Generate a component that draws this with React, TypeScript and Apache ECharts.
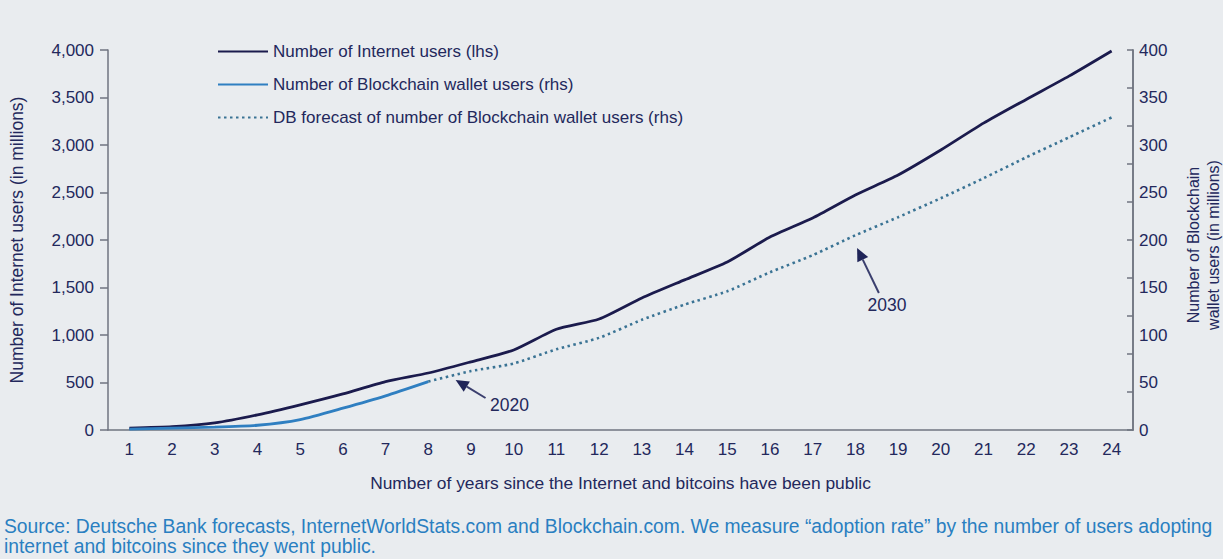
import React, { useEffect, useRef } from "react";
import * as echarts from "echarts";

const years = ["1","2","3","4","5","6","7","8","9","10","11","12","13","14","15","16","17","18","19","20","21","22","23","24"];
const internetUsers = [20, 35, 75, 160, 265, 380, 510, 600, 718, 842, 1060, 1168, 1390, 1580, 1768, 2032, 2232, 2474, 2684, 2947, 3230, 3480, 3725, 3990];
const blockchainUsers: (number | null)[] = [1, 2, 3, 5, 11, 23, 36, 51, null, null, null, null, null, null, null, null, null, null, null, null, null, null, null, null];
const forecastUsers: (number | null)[] = [null, null, null, null, null, null, null, 51, 62, 70, 85, 97, 116, 132, 146, 166, 184, 205, 224, 244, 265, 287, 308, 329];
const leftTicks = [0, 500, 1000, 1500, 2000, 2500, 3000, 3500, 4000];
const rightTicks = [0, 50, 100, 150, 200, 250, 300, 350, 400];

// annotations: [label, headIdx, headVal, tailIdx, tailVal, textIdx, textVal] (index space, left-axis value)
const annotations: [string, number, number, number, number, number, number][] = [
  ["2020", 7.64, 526, 8.34, 337, 8.9, 263],
  ["2030", 17.04, 1916, 17.55, 1442, 17.74, 1316],
];

const NAVY = "#23285c";
const AXIS = "#6f7480";
const FONT = "'Liberation Sans', Arial, sans-serif";
const FS = 17;

export default function App() {
  const ref = useRef<HTMLDivElement>(null);
  useEffect(() => {
    document.body.style.margin = "0";
    const chart = echarts.init(ref.current!, undefined, { renderer: "svg" });
    const option: any = {
      animation: false,
      backgroundColor: "#e9ecef",
      textStyle: { fontFamily: FONT },
      grid: { left: 103, right: 90, top: 50, bottom: 129 },
      legend: {
        orient: "vertical",
        left: 212,
        top: 38,
        itemWidth: 50,
        itemHeight: 14,
        itemGap: 16,
        itemStyle: { opacity: 0 },
        textStyle: { color: NAVY, fontSize: FS, fontFamily: FONT },
        data: [
          "Number of Internet users (lhs)",
          "Number of Blockchain wallet users (rhs)",
          "DB forecast of number of Blockchain wallet users (rhs)",
        ],
      },
      xAxis: {
        type: "category",
        data: years,
        boundaryGap: true,
        name: "Number of years since the Internet and bitcoins have been public",
        nameLocation: "middle",
        nameGap: 44,
        nameTextStyle: { color: NAVY, fontSize: 17.4, fontFamily: FONT },
        axisLine: { lineStyle: { color: AXIS, width: 1.5 } },
        axisTick: { lineStyle: { color: AXIS, width: 1.5 }, length: 7 },
        axisLabel: { color: NAVY, fontSize: FS, margin: 11, fontFamily: FONT },
      },
      yAxis: [
        {
          type: "value",
          min: 0,
          max: 4000,
          interval: 500,
          position: "left",
          name: "Number of Internet users (in millions)",
          nameLocation: "middle",
          nameGap: 82,
          nameRotate: 90,
          nameTextStyle: { color: NAVY, fontSize: 17.5, fontFamily: FONT },
          axisLine: { show: true, lineStyle: { color: AXIS, width: 1.5 } },
          axisTick: { show: true, length: 8, lineStyle: { color: AXIS, width: 1.5 } },
          splitLine: { show: false },
          axisLabel: {
            color: NAVY,
            fontSize: FS,
            margin: 14,
            fontFamily: FONT,
            formatter: (v: number) => (leftTicks.includes(v) ? v.toLocaleString("en-US") : ""),
          },
        },
        {
          type: "value",
          min: 0,
          max: 400,
          interval: 50,
          position: "right",
          axisLine: { show: true, lineStyle: { color: AXIS, width: 1.5 } },
          axisTick: { show: false },
          splitLine: { show: false },
          axisLabel: {
            color: NAVY,
            fontSize: FS,
            margin: 6,
            fontFamily: FONT,
            formatter: (v: number) => (rightTicks.includes(v) ? String(v) : ""),
          },
        },
        {
          type: "value",
          min: 0,
          max: 400,
          interval: 40,
          position: "right",
          offset: 0,
          axisLine: { show: true, lineStyle: { color: AXIS, width: 1.5 } },
          axisTick: { show: true, inside: true, length: 6, lineStyle: { color: AXIS, width: 1.5 } },
          splitLine: { show: false },
          axisLabel: { show: false },
        },
      ],
      series: [
        {
          name: "Number of Internet users (lhs)",
          type: "line",
          yAxisIndex: 0,
          data: internetUsers,
          symbol: "none",
          smooth: 0.2,
          lineStyle: { color: "#1b1b4d", width: 2.8 },
          itemStyle: { color: "#1b1b4d" },
        },
        {
          name: "Number of Blockchain wallet users (rhs)",
          type: "line",
          yAxisIndex: 1,
          data: blockchainUsers,
          symbol: "none",
          smooth: 0.2,
          lineStyle: { color: "#2f7fc1", width: 2.8 },
          itemStyle: { color: "#2f7fc1" },
        },
        {
          name: "DB forecast of number of Blockchain wallet users (rhs)",
          type: "line",
          yAxisIndex: 1,
          data: forecastUsers,
          symbol: "none",
          smooth: 0.2,
          lineStyle: { color: "#3a7394", width: 2.6, type: [2.5, 3.5] },
          itemStyle: { color: "#3a7394" },
        },
      ],
    };
    chart.setOption(option);

    const p0 = chart.convertToPixel({ xAxisIndex: 0, yAxisIndex: 0 }, [0, 0]) as number[];
    const p1 = chart.convertToPixel({ xAxisIndex: 0, yAxisIndex: 0 }, [1, 4000]) as number[];
    const dx = p1[0] - p0[0];
    const toPx = (idx: number, val: number) => [p0[0] + idx * dx, p0[1] + (val / 4000) * (p1[1] - p0[1])];
    const graphics: any[] = [];
    annotations.forEach(([label, hi, hv, ti, tv, xi, xv]) => {
      const h = toPx(hi, hv);
      const t = toPx(ti, tv);
      const tx = toPx(xi, xv);
      const ang = Math.atan2(h[1] - t[1], h[0] - t[0]);
      const L = 13, W = 6;
      const bx = h[0] - L * Math.cos(ang), by = h[1] - L * Math.sin(ang);
      const nx = -Math.sin(ang), ny = Math.cos(ang);
      graphics.push({
        type: "line",
        shape: { x1: t[0], y1: t[1], x2: bx, y2: by },
        style: { stroke: "#3b3f6e", lineWidth: 2 },
        silent: true,
      });
      graphics.push({
        type: "polygon",
        shape: { points: [[h[0], h[1]], [bx + nx * W, by + ny * W], [bx - nx * W, by - ny * W]] },
        style: { fill: "#1f2458" },
        silent: true,
      });
      graphics.push({
        type: "text",
        x: tx[0],
        y: tx[1],
        style: { text: label, fill: NAVY, font: `17.5px ${FONT}`, align: "center", verticalAlign: "middle" },
        silent: true,
      });
    });
    graphics.push({
      type: "text",
      x: 1203,
      y: 245,
      rotation: Math.PI / 2,
      style: {
        text: "Number of Blockchain\nwallet users (in millions)",
        fill: NAVY,
        font: `16px ${FONT}`,
        align: "center",
        verticalAlign: "middle",
        lineHeight: 20,
      },
      silent: true,
    });
    graphics.push({
      type: "text",
      left: 4,
      top: 516,
      style: {
        text: "Source: Deutsche Bank forecasts, InternetWorldStats.com and Blockchain.com. We measure “adoption rate” by the number of users adopting\ninternet and bitcoins since they went public.",
        fill: "#2a7fc1",
        font: `19.3px ${FONT}`,
        lineHeight: 20,
      },
      silent: true,
    });
    chart.setOption({ graphic: graphics });
    return () => chart.dispose();
  }, []);
  return <div ref={ref} style={{ width: 1223, height: 559 }} />;
}
